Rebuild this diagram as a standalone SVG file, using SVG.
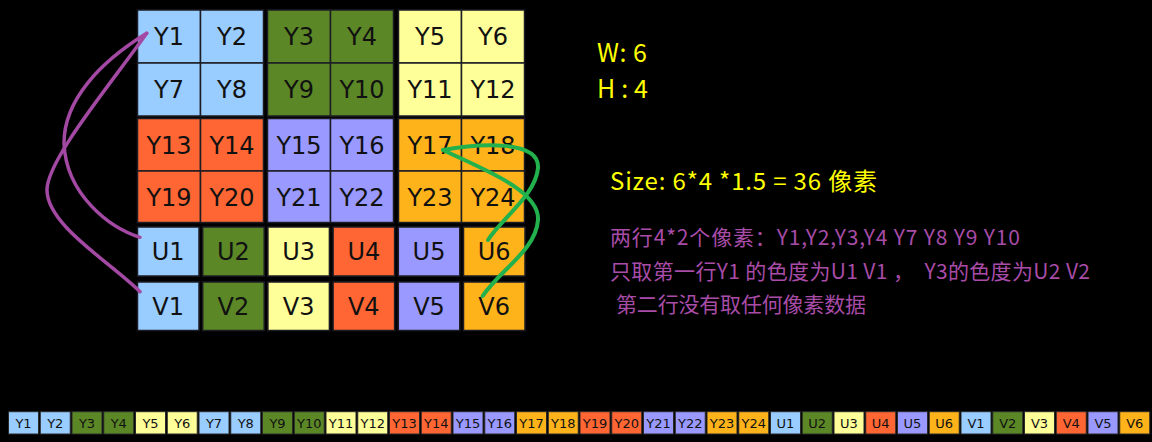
<svg xmlns="http://www.w3.org/2000/svg" width="1152" height="442" viewBox="0 0 1152 442">
<style>
.c{stroke:#1c1c24;stroke-width:1.5}
.s{stroke:#2a2a2a;stroke-width:1}
.b{fill:#99ccff}.g{fill:#5b8726}.y{fill:#ffff99}.r{fill:#ff6633}.p{fill:#9999ff}.o{fill:#ffb31a}
.t{font-family:"DejaVu Sans",sans-serif;font-size:24px;fill:#111;text-anchor:middle}
.st{font-family:"DejaVu Sans",sans-serif;font-size:13px;fill:#111;text-anchor:middle}
.yl{font-family:"Noto Sans CJK SC","Noto Sans",sans-serif;fill:#ffff00}
.pl{font-family:"Noto Sans CJK SC","Noto Sans",sans-serif;fill:#a84ca8;font-size:21px}
.cp{fill:none;stroke:#a349a4;stroke-width:3.5;stroke-linecap:round}
.cg{fill:none;stroke:#22b14c;stroke-width:4;stroke-linecap:round}
</style>
<rect width="1152" height="442" fill="#000"/>
<g id="grid">
<g id="Y1"><rect class="c b" x="137.5" y="10" width="63" height="53"/><text class="t" x="169" y="45.3">Y1</text></g>
<g id="Y2"><rect class="c b" x="200.5" y="10" width="63" height="53"/><text class="t" x="232" y="45.3">Y2</text></g>
<g id="Y3"><rect class="c g" x="267.5" y="10" width="63" height="53"/><text class="t" x="299" y="45.3">Y3</text></g>
<g id="Y4"><rect class="c g" x="330.5" y="10" width="63" height="53"/><text class="t" x="362" y="45.3">Y4</text></g>
<g id="Y5"><rect class="c y" x="398.5" y="10" width="63" height="53"/><text class="t" x="430" y="45.3">Y5</text></g>
<g id="Y6"><rect class="c y" x="461.5" y="10" width="63" height="53"/><text class="t" x="493" y="45.3">Y6</text></g>
<g id="Y7"><rect class="c b" x="137.5" y="63" width="63" height="53"/><text class="t" x="169" y="98.3">Y7</text></g>
<g id="Y8"><rect class="c b" x="200.5" y="63" width="63" height="53"/><text class="t" x="232" y="98.3">Y8</text></g>
<g id="Y9"><rect class="c g" x="267.5" y="63" width="63" height="53"/><text class="t" x="299" y="98.3">Y9</text></g>
<g id="Y10"><rect class="c g" x="330.5" y="63" width="63" height="53"/><text class="t" x="362" y="98.3">Y10</text></g>
<g id="Y11"><rect class="c y" x="398.5" y="63" width="63" height="53"/><text class="t" x="430" y="98.3">Y11</text></g>
<g id="Y12"><rect class="c y" x="461.5" y="63" width="63" height="53"/><text class="t" x="493" y="98.3">Y12</text></g>
<g id="Y13"><rect class="c r" x="137.5" y="118.5" width="63" height="52.5"/><text class="t" x="169" y="153.5">Y13</text></g>
<g id="Y14"><rect class="c r" x="200.5" y="118.5" width="63" height="52.5"/><text class="t" x="232" y="153.5">Y14</text></g>
<g id="Y15"><rect class="c p" x="267.5" y="118.5" width="63" height="52.5"/><text class="t" x="299" y="153.5">Y15</text></g>
<g id="Y16"><rect class="c p" x="330.5" y="118.5" width="63" height="52.5"/><text class="t" x="362" y="153.5">Y16</text></g>
<g id="Y17"><rect class="c o" x="398.5" y="118.5" width="63" height="52.5"/><text class="t" x="430" y="153.5">Y17</text></g>
<g id="Y18"><rect class="c o" x="461.5" y="118.5" width="63" height="52.5"/><text class="t" x="493" y="153.5">Y18</text></g>
<g id="Y19"><rect class="c r" x="137.5" y="171" width="63" height="51.5"/><text class="t" x="169" y="205.5">Y19</text></g>
<g id="Y20"><rect class="c r" x="200.5" y="171" width="63" height="51.5"/><text class="t" x="232" y="205.5">Y20</text></g>
<g id="Y21"><rect class="c p" x="267.5" y="171" width="63" height="51.5"/><text class="t" x="299" y="205.5">Y21</text></g>
<g id="Y22"><rect class="c p" x="330.5" y="171" width="63" height="51.5"/><text class="t" x="362" y="205.5">Y22</text></g>
<g id="Y23"><rect class="c o" x="398.5" y="171" width="63" height="51.5"/><text class="t" x="430" y="205.5">Y23</text></g>
<g id="Y24"><rect class="c o" x="461.5" y="171" width="63" height="51.5"/><text class="t" x="493" y="205.5">Y24</text></g>
<g id="U1"><rect class="c b" x="137.5" y="227" width="61.5" height="49"/><text class="t" x="168.2" y="260.3">U1</text></g>
<g id="U2"><rect class="c g" x="202.7" y="227" width="61.5" height="49"/><text class="t" x="233.4" y="260.3">U2</text></g>
<g id="U3"><rect class="c y" x="267.9" y="227" width="61.5" height="49"/><text class="t" x="298.6" y="260.3">U3</text></g>
<g id="U4"><rect class="c r" x="333.1" y="227" width="61.5" height="49"/><text class="t" x="363.8" y="260.3">U4</text></g>
<g id="U5"><rect class="c p" x="398.3" y="227" width="61.5" height="49"/><text class="t" x="429" y="260.3">U5</text></g>
<g id="U6"><rect class="c o" x="463.5" y="227" width="61.5" height="49"/><text class="t" x="494.2" y="260.3">U6</text></g>
<g id="V1"><rect class="c b" x="137.5" y="282" width="61.5" height="48.5"/><text class="t" x="168.2" y="315">V1</text></g>
<g id="V2"><rect class="c g" x="202.7" y="282" width="61.5" height="48.5"/><text class="t" x="233.4" y="315">V2</text></g>
<g id="V3"><rect class="c y" x="267.9" y="282" width="61.5" height="48.5"/><text class="t" x="298.6" y="315">V3</text></g>
<g id="V4"><rect class="c r" x="333.1" y="282" width="61.5" height="48.5"/><text class="t" x="363.8" y="315">V4</text></g>
<g id="V5"><rect class="c p" x="398.3" y="282" width="61.5" height="48.5"/><text class="t" x="429" y="315">V5</text></g>
<g id="V6"><rect class="c o" x="463.5" y="282" width="61.5" height="48.5"/><text class="t" x="494.2" y="315">V6</text></g>
</g>
<g id="connectors">
<path class="cp" d="M146.7,33.3 C100,62 64,100 64,143 C66,195 110,228 140,237.3"/>
<path class="cp" d="M146.7,33.3 C110,85 47,160 47,190 C47,225 110,262 140,291.7"/>
<path class="cg" d="M443,150 C480,143 540,140 538,168 C536,195 500,220 488,240"/>
<path class="cg" d="M443,150 C480,168 540,190 538,220 C536,250 500,270 482.7,296"/>
</g>
<g id="labels">
<text class="yl" x="597" y="62" font-size="25" textLength="50">W: 6</text>
<text class="yl" x="597" y="98" font-size="25" textLength="51">H : 4</text>
<text class="yl" x="610" y="190" font-size="24" textLength="267">Size: 6*4 *1.5 = 36 像素</text>
<text class="pl" x="610" y="245" textLength="410">两行4*2个像素：Y1,Y2,Y3,Y4 Y7 Y8 Y9 Y10</text>
<text class="pl" x="610" y="279" textLength="480" xml:space="preserve">只取第一行Y1 的色度为U1 V1 ，  Y3的色度为U2 V2</text>
<text class="pl" x="616" y="312" textLength="250">第二行没有取任何像素数据</text>
</g>
<g id="strip">
<g id="sY1"><rect class="s b" x="8.5" y="411.7" width="30" height="22.3"/><text class="st" x="23.5" y="427.5">Y1</text></g>
<g id="sY2"><rect class="s b" x="40.25" y="411.7" width="30" height="22.3"/><text class="st" x="55.25" y="427.5">Y2</text></g>
<g id="sY3"><rect class="s g" x="72" y="411.7" width="30" height="22.3"/><text class="st" x="87" y="427.5">Y3</text></g>
<g id="sY4"><rect class="s g" x="103.75" y="411.7" width="30" height="22.3"/><text class="st" x="118.75" y="427.5">Y4</text></g>
<g id="sY5"><rect class="s y" x="135.5" y="411.7" width="30" height="22.3"/><text class="st" x="150.5" y="427.5">Y5</text></g>
<g id="sY6"><rect class="s y" x="167.25" y="411.7" width="30" height="22.3"/><text class="st" x="182.25" y="427.5">Y6</text></g>
<g id="sY7"><rect class="s b" x="199" y="411.7" width="30" height="22.3"/><text class="st" x="214" y="427.5">Y7</text></g>
<g id="sY8"><rect class="s b" x="230.75" y="411.7" width="30" height="22.3"/><text class="st" x="245.75" y="427.5">Y8</text></g>
<g id="sY9"><rect class="s g" x="262.5" y="411.7" width="30" height="22.3"/><text class="st" x="277.5" y="427.5">Y9</text></g>
<g id="sY10"><rect class="s g" x="294.25" y="411.7" width="30" height="22.3"/><text class="st" x="309.25" y="427.5">Y10</text></g>
<g id="sY11"><rect class="s y" x="326" y="411.7" width="30" height="22.3"/><text class="st" x="341" y="427.5">Y11</text></g>
<g id="sY12"><rect class="s y" x="357.75" y="411.7" width="30" height="22.3"/><text class="st" x="372.75" y="427.5">Y12</text></g>
<g id="sY13"><rect class="s r" x="389.5" y="411.7" width="30" height="22.3"/><text class="st" x="404.5" y="427.5">Y13</text></g>
<g id="sY14"><rect class="s r" x="421.25" y="411.7" width="30" height="22.3"/><text class="st" x="436.25" y="427.5">Y14</text></g>
<g id="sY15"><rect class="s p" x="453" y="411.7" width="30" height="22.3"/><text class="st" x="468" y="427.5">Y15</text></g>
<g id="sY16"><rect class="s p" x="484.75" y="411.7" width="30" height="22.3"/><text class="st" x="499.75" y="427.5">Y16</text></g>
<g id="sY17"><rect class="s o" x="516.5" y="411.7" width="30" height="22.3"/><text class="st" x="531.5" y="427.5">Y17</text></g>
<g id="sY18"><rect class="s o" x="548.25" y="411.7" width="30" height="22.3"/><text class="st" x="563.25" y="427.5">Y18</text></g>
<g id="sY19"><rect class="s r" x="580" y="411.7" width="30" height="22.3"/><text class="st" x="595" y="427.5">Y19</text></g>
<g id="sY20"><rect class="s r" x="611.75" y="411.7" width="30" height="22.3"/><text class="st" x="626.75" y="427.5">Y20</text></g>
<g id="sY21"><rect class="s p" x="643.5" y="411.7" width="30" height="22.3"/><text class="st" x="658.5" y="427.5">Y21</text></g>
<g id="sY22"><rect class="s p" x="675.25" y="411.7" width="30" height="22.3"/><text class="st" x="690.25" y="427.5">Y22</text></g>
<g id="sY23"><rect class="s o" x="707" y="411.7" width="30" height="22.3"/><text class="st" x="722" y="427.5">Y23</text></g>
<g id="sY24"><rect class="s o" x="738.75" y="411.7" width="30" height="22.3"/><text class="st" x="753.75" y="427.5">Y24</text></g>
<g id="sU1"><rect class="s b" x="770.5" y="411.7" width="30" height="22.3"/><text class="st" x="785.5" y="427.5">U1</text></g>
<g id="sU2"><rect class="s g" x="802.25" y="411.7" width="30" height="22.3"/><text class="st" x="817.25" y="427.5">U2</text></g>
<g id="sU3"><rect class="s y" x="834" y="411.7" width="30" height="22.3"/><text class="st" x="849" y="427.5">U3</text></g>
<g id="sU4"><rect class="s r" x="865.75" y="411.7" width="30" height="22.3"/><text class="st" x="880.75" y="427.5">U4</text></g>
<g id="sU5"><rect class="s p" x="897.5" y="411.7" width="30" height="22.3"/><text class="st" x="912.5" y="427.5">U5</text></g>
<g id="sU6"><rect class="s o" x="929.25" y="411.7" width="30" height="22.3"/><text class="st" x="944.25" y="427.5">U6</text></g>
<g id="sV1"><rect class="s b" x="961" y="411.7" width="30" height="22.3"/><text class="st" x="976" y="427.5">V1</text></g>
<g id="sV2"><rect class="s g" x="992.75" y="411.7" width="30" height="22.3"/><text class="st" x="1007.75" y="427.5">V2</text></g>
<g id="sV3"><rect class="s y" x="1024.5" y="411.7" width="30" height="22.3"/><text class="st" x="1039.5" y="427.5">V3</text></g>
<g id="sV4"><rect class="s r" x="1056.25" y="411.7" width="30" height="22.3"/><text class="st" x="1071.25" y="427.5">V4</text></g>
<g id="sV5"><rect class="s p" x="1088" y="411.7" width="30" height="22.3"/><text class="st" x="1103" y="427.5">V5</text></g>
<g id="sV6"><rect class="s o" x="1119.75" y="411.7" width="30" height="22.3"/><text class="st" x="1134.75" y="427.5">V6</text></g>
</g>
</svg>
